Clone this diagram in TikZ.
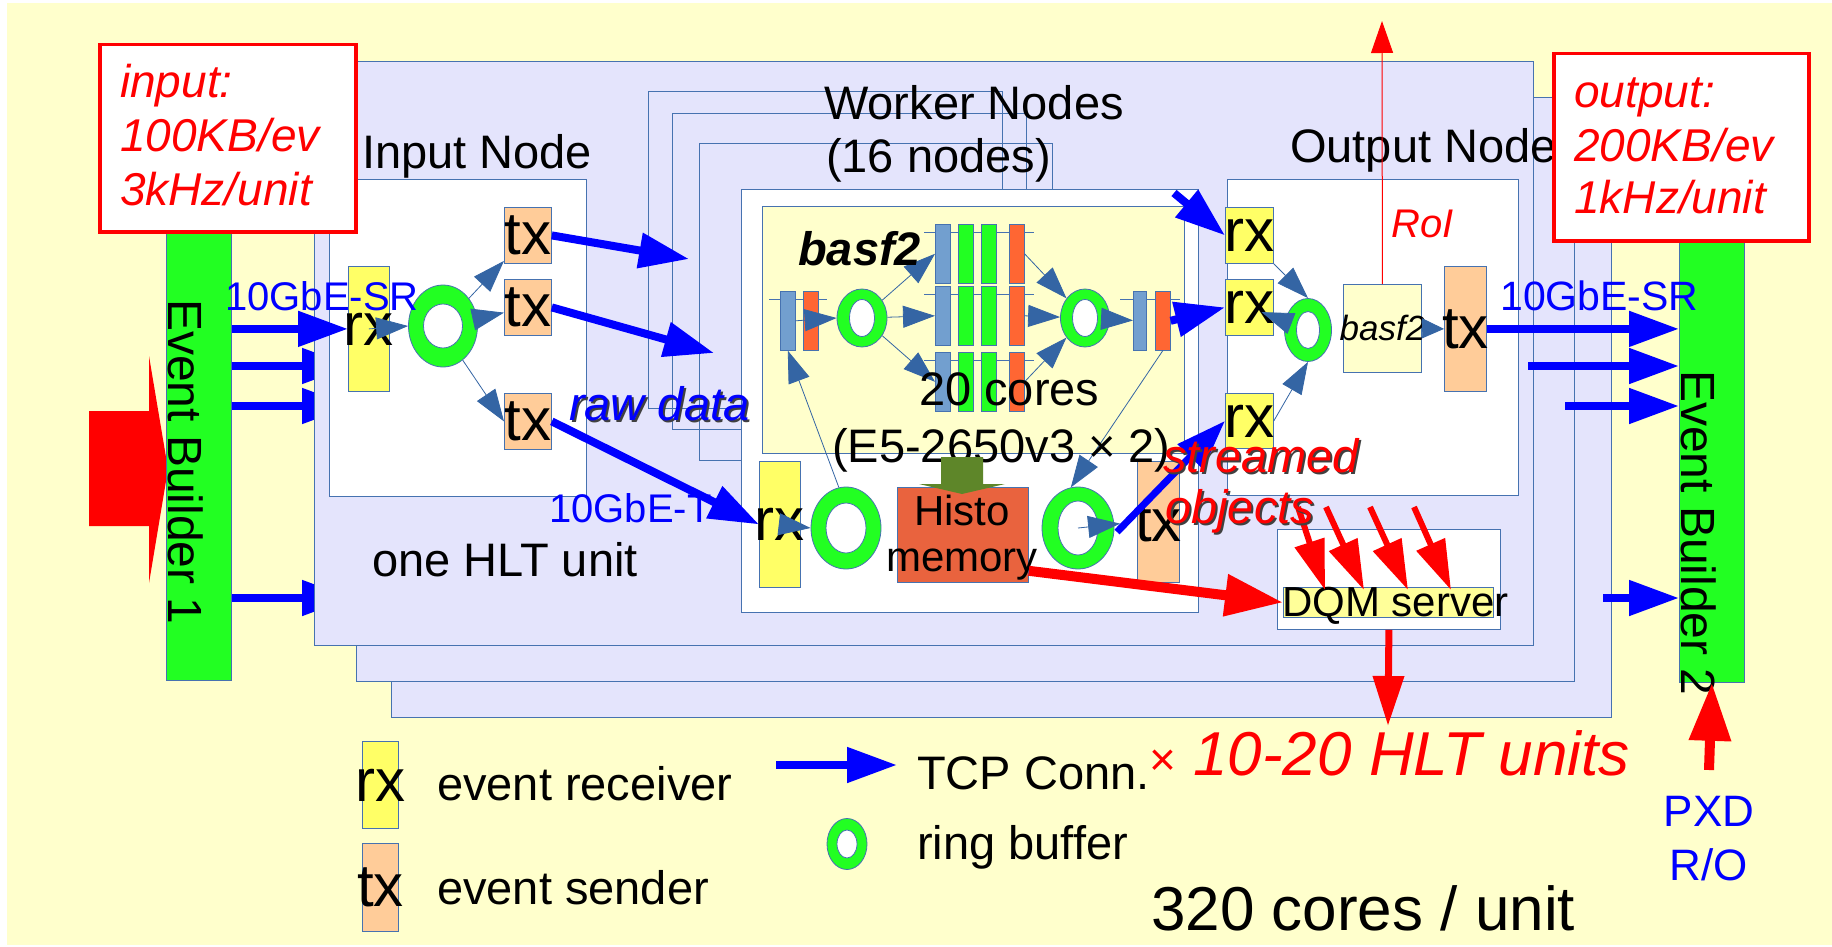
\documentclass[tikz,border=0pt]{standalone}
\usepackage{fontspec}
\setmainfont{Liberation Sans}
\usepackage{tikz}
\usetikzlibrary{arrows.meta,calc,shapes.geometric}

\definecolor{bgyellow}{RGB}{255,255,204}
\definecolor{unitfill}{RGB}{228,228,252}
\definecolor{edgeblue}{RGB}{70,114,176}
\definecolor{ebgreen}{RGB}{34,255,34}
\definecolor{rxyellow}{RGB}{255,255,102}
\definecolor{txpeach}{RGB}{255,204,153}
\definecolor{barblue}{RGB}{114,159,207}
\definecolor{barorange}{RGB}{255,102,51}
\definecolor{histored}{RGB}{233,99,62}
\definecolor{histoolive}{RGB}{94,134,41}
\definecolor{smallblue}{RGB}{52,101,164}
\definecolor{dqmyellow}{RGB}{255,255,153}

\newcommand{\fsizemain}{\fontsize{47}{54}\selectfont}
\newcommand{\fsizebox}{\fontsize{60}{66}\selectfont}
\newcommand{\fsizelink}{\fontsize{40}{46}\selectfont}
\newcommand{\fsizerate}{\fontsize{46}{53}\selectfont}
\newcommand{\fsizesmall}{\fontsize{42}{46}\selectfont}
\newcommand{\fsizebig}{\fontsize{62}{70}\selectfont}
\newcommand{\fsizeeb}{\fontsize{48}{54}\selectfont}
\newcommand{\fsizebasf}{\fontsize{35}{40}\selectfont}
\newcommand{\fsizepxd}{\fontsize{44}{54}\selectfont}

\tikzstyle{unit} = [draw=edgeblue, fill=unitfill, line width=0.8pt, inner sep=0pt, anchor=north west]
\tikzstyle{whitebox} = [draw=edgeblue, fill=white, line width=0.8pt, inner sep=0pt, anchor=north west]
\tikzstyle{ratebox} = [draw=red, fill=white, line width=3.5pt, inner sep=0pt, anchor=north west]
\tikzstyle{ebbar} = [draw=edgeblue, fill=ebgreen, line width=0.8pt, inner sep=0pt, anchor=north west]
\tikzstyle{ebtext} = [rotate=-90, font=\fsizeeb, inner sep=0pt]
\tikzstyle{boxtext} = [font=\fsizebox, inner sep=0pt]
\tikzstyle{rxbox} = [draw=edgeblue, fill=rxyellow, line width=0.8pt, inner sep=0pt,
    anchor=north west, label={[boxtext]center:rx}]
\tikzstyle{txbox} = [draw=edgeblue, fill=txpeach, line width=0.8pt, inner sep=0pt,
    anchor=north west, label={[boxtext]center:tx}]
\tikzstyle{bar} = [draw=edgeblue, line width=0.6pt, inner sep=0pt, anchor=north west,
    minimum width=15, minimum height=59]
\tikzstyle{ringnode} = [ellipse, draw=edgeblue, fill=ebgreen, line width=0.8pt, inner sep=0pt]
\tikzstyle{ringhole} = [ellipse, draw=edgeblue, fill=white, line width=0.8pt, inner sep=0pt]
\tikzstyle{sarrow} = [draw=smallblue, line width=0.8pt, -{Triangle[length=32pt,width=22pt]}]
\tikzstyle{tcp} = [draw=blue, line width=8pt, -{Triangle[length=50pt,width=34pt]}]
\tikzstyle{redline} = [draw=red, line width=10pt, -{Triangle[length=58pt,width=40pt]}]
\tikzstyle{dqmline} = [draw=red, line width=7pt, -{Triangle[length=50pt,width=30pt]}]
\tikzstyle{txt} = [anchor=base west, inner sep=0pt, font=\fsizemain]
\tikzstyle{ratetxt} = [txt, text=red, font=\fsizerate\itshape]
\tikzstyle{linktxt} = [txt, text=blue, font=\fsizelink]
\tikzstyle{thinrule} = [draw=edgeblue, line width=0.8pt]

% ring buffer: name, centre, outer w, outer h, hole w, hole h
\newcommand{\ringbuf}[6]{%
    \node[ringnode, minimum width=#3, minimum height=#4] (#1) at (#2) {};
    \node[ringhole, minimum width=#5, minimum height=#6] (#1hole) at (#1) {};}

\begin{document}
\begin{tikzpicture}[x=1pt, y=-1pt]
    \useasboundingbox (0,0) rectangle (1832,947);
    \fill[white] (0,0) rectangle (1832,947);
    \fill[bgyellow] (7,3) rectangle (1832,945);

    % Event builders
    \fill[red] (89,411) -- (149,411) -- (149,356) -- (168,469) -- (149,583) -- (149,526) -- (89,526) -- cycle;
    \node[ebbar, minimum width=65, minimum height=480] (eb1) at (166,200) {};
    \node[ebtext] (eb1text) at (186,462) {Event Builder 1};
    \node[ebbar, minimum width=65, minimum height=440] (eb2) at (1679,242) {};
    \node[ebtext] (eb2text) at (1699,533) {Event Builder 2};

    % Stacked HLT units
    \node[unit, minimum width=1220, minimum height=587] (unitC) at (391,130) {};
    \node[unit, minimum width=1218, minimum height=584] (unitB) at (356,97) {};
    \coordinate (ib2) at (352,366);
    \coordinate (ib3) at (352,406);
    \coordinate (ib4) at (352,598);
    \foreach \p in {ib2,ib3,ib4}
        \draw[tcp] (eb1.east |- \p) -- (\p);
    \node[unit, minimum width=1219, minimum height=584] (unitA) at (314,61) {};

    % Worker nodes behind
    \draw[thinrule] (648,91) rectangle (1002,408);
    \draw[thinrule] (672,113) rectangle (1026,429);
    \draw[thinrule] (699,143) rectangle (1052,460);

    % Node boxes
    \node[whitebox, minimum width=257, minimum height=317] (innode) at (329,179) {};
    \node[whitebox, minimum width=457, minimum height=423] (wknode) at (741,189) {};
    \node[whitebox, fill=bgyellow, minimum width=422, minimum height=247] (wkbasf) at (762,206) {};
    \node[whitebox, minimum width=291, minimum height=316] (outnode) at (1227,179) {};
    \node[whitebox, minimum width=223, minimum height=100] (dqm) at (1277,529) {};
    \node[whitebox, fill=dqmyellow, minimum width=210, minimum height=30] (dqmbar) at (1283,587) {};

    % Input node
    \node[rxbox, minimum width=41, minimum height=125] (inrx) at (348,266) {};
    \node[txbox, minimum width=47, minimum height=56] (intx1) at (504,207) {};
    \node[txbox, minimum width=47, minimum height=56] (intx2) at (504,279) {};
    \node[txbox, minimum width=47, minimum height=56] (intx3) at (504,393) {};
    \ringbuf{inring}{443,326}{69}{82}{39}{44}
    \draw[sarrow] (inrx.center) -- (inring.west);
    \draw[sarrow] (inring) -- (intx1);
    \draw[sarrow] (inring) -- (intx2);
    \draw[sarrow] (inring.-60) -- (intx3.west);

    % Worker node
    \draw[thinrule] (769,299) -- (827,299);
    \draw[thinrule] (1120,299) -- (1180,299);
    \node[bar, fill=barblue] (wlb) at (780,291) {};
    \node[bar, fill=barorange] (wlo) at (803,291) {};
    \node[bar, fill=barblue, minimum width=13] (wrb) at (1133,291) {};
    \node[bar, fill=barorange] (wro) at (1155,291) {};
    \foreach \r/\y in {1/224,2/286,3/352} {
        \draw[thinrule] (924,\y+8) -- (1034,\y+8);
        \node[bar, fill=barblue] (colb\r) at (935,\y) {};
        \node[bar, fill=ebgreen] (colg\r) at (958,\y) {};
        \node[bar, fill=ebgreen] (colh\r) at (981,\y) {};
        \node[bar, fill=barorange] (colo\r) at (1009,\y) {};
    }
    \ringbuf{wring1}{862,318}{50}{58}{25}{37}
    \ringbuf{wring2}{1085,318}{49}{58}{25}{37}
    \node[rxbox, minimum width=41, minimum height=126] (wrx) at (759,461) {};
    \node[txbox, minimum width=42, minimum height=121] (wtx) at (1137,461) {};
    \ringbuf{wring3}{846,528}{70}{82}{40}{50}
    \ringbuf{wring4}{1078,528}{72}{82}{40}{54}
    \node[whitebox, fill=histored, minimum width=131, minimum height=95] (histo) at (897,487) {};
    \draw[sarrow] (wlb.east) -- (wring1.west);
    \draw[sarrow] (wring1) -- (colb1.west);
    \draw[sarrow] (wring1) -- (colb2.west);
    \draw[sarrow] (wring1) -- (colb3.west);
    \draw[sarrow] (colo1.east) -- (wring2);
    \draw[sarrow] (colo2.east) -- (wring2);
    \draw[sarrow] (colo3.east) -- (wring2);
    \draw[sarrow] (wring2) -- (wrb);
    \draw[sarrow] (wrx.center) -- (wring3.west);
    \draw[sarrow] (wring3.100) -- (wlb.south);
    \draw[sarrow] (wro.south) -- (wring4.100);
    \draw[sarrow, shorten >=17pt] (wring4.center) -- (wtx.west);

    % Output node
    \node[rxbox, minimum width=48, minimum height=56] (orx1) at (1225,207) {};
    \node[rxbox, minimum width=48, minimum height=56] (orx2) at (1225,279) {};
    \node[rxbox, minimum width=48, minimum height=55] (orx3) at (1225,393) {};
    \ringbuf{oring}{1308,330}{47}{63}{23}{37}
    \node[whitebox, fill=bgyellow, minimum width=78, minimum height=88,
        label={[font=\fsizebasf\itshape, inner sep=0pt]center:basf2}] (obasf) at (1343,284) {};
    \node[txbox, minimum width=42, minimum height=125] (otx) at (1444,266) {};
    \draw[sarrow] (orx1.south east) -- (oring.north);
    \draw[sarrow, shorten >=13pt] (oring) -- (orx2.center);
    \draw[sarrow] (orx3.east) -- (oring.south);
    \draw[sarrow, -{Triangle[length=22pt,width=20pt]}] (obasf.east) -- (otx.west);

    % Legend
    \node[rxbox, minimum width=36, minimum height=87] (legrx) at (362,741) {};
    \node[txbox, minimum width=36, minimum height=88] (legtx) at (362,843) {};
    \ringbuf{legring}{847,844}{40}{51}{20}{28}
    \coordinate (legtcpa) at (776,765);
    \coordinate (legtcpb) at (897,765);
    \draw[tcp] (legtcpa) -- (legtcpb);
    \node[txt] (legrxtext) at (437,800) {event receiver};
    \node[txt] (legtxtext) at (437,904) {event sender};
    \node[txt] (legtcptext) at (917,789) {TCP Conn.};
    \node[txt] (legringtext) at (917,859) {ring buffer};

    % Labels
    \node[txt] (innodetext) at (362,169) {Input Node};
    \node[txt] (wktext1) at (824,120) {Worker Nodes};
    \node[txt] (wktext2) at (826,173) {(16 nodes)};
    \node[txt] (outnodetext) at (1290,163) {Output Node};
    \node[txt, font=\fsizemain\bfseries\itshape] (basftext) at (798,265) {basf2};
    \node[txt] (corestext) at (919,405) {20 cores};
    \node[txt] (cputext) at (832,462) {(E5-2650v3 × 2)};
    \node[txt] (unittext) at (372,576) {one HLT unit};
    \node[font=\fsizesmall, align=center, inner sep=0pt] (histotext) at (962,538) {Histo\\memory};
    \node[txt, font=\fsizesmall] (dqmtext) at (1282,616) {DQM server};
    \node[txt, font=\fsizebig\itshape, text=red] (hlttext) at (1149,775)
        {{\fontsize{46}{50}\selectfont\upshape ×} 10-20 HLT units};
    \node[txt, font=\fsizebig] (unitcores) at (1151,930) {320 cores / unit};
    \node[anchor=base, inner sep=0pt, font=\fsizepxd, text=blue] (pxd1) at (1709,826) {PXD};
    \node[anchor=base, inner sep=0pt, font=\fsizepxd, text=blue] (pxd2) at (1709,880) {R/O};
    \node[linktxt] (ttext) at (549,522) {10GbE-T};
    \fill[histoolive] (941,457) -- (983,457) -- (983,484) -- (1005,484) -- (962,494) -- (919,484) -- (941,484) -- cycle;

    % TCP connections
    \draw[tcp] (eb1.east |- inrx.center) -- (inrx.west);
    \coordinate (wkA) at (689,259);
    \coordinate (wkB) at (714,353);
    \draw[tcp] (intx1.east) -- (wkA);
    \draw[tcp] (intx2.east) -- (wkB);
    \draw[tcp] (intx3.east) -- (wrx.west);
    \draw[tcp] (wro.east) -- (orx2.west);
    \coordinate (wkout) at (1174,193);
    \draw[tcp] (wkout) -- (orx1.west);
    \coordinate (wkstream) at (1117,532);
    \draw[tcp, line width=7pt] (wkstream) -- (orx3.west);
    \draw[tcp] (otx.east) -- (eb2.west |- otx.east);
    \coordinate (ob2) at (1528,366);
    \coordinate (ob3) at (1565,406);
    \coordinate (ob4) at (1603,598);
    \foreach \p in {ob2,ob3,ob4}
        \draw[tcp] (\p) -- (eb2.west |- \p);

    % DQM and PXD
    \draw[redline] ($(histo.south east)+(0,-12)$) -- (dqmbar.west);
    \coordinate (hltout) at (1388,726);
    \draw[dqmline] (dqm.south) -- (hltout);
    \foreach \i/\sx/\ex in {1/1298/42, 2/1326/81, 3/1370/125, 4/1414/168} {
        \coordinate (so\i) at (\sx,507);
        \draw[dqmline, line width=6pt] (so\i) -- ($(dqmbar.north west)+(\ex,3)$);
    }
    \coordinate (pxdin) at (1709,770);
    \draw[redline] (pxdin) -- (eb2.south);

    % Texts on top
    \node[linktxt] (srin) at (225,310) {10GbE-SR};
    \node[linktxt, font=\fontsize{41}{46}\selectfont] (srout) at (1500,310) {10GbE-SR};
    \node[txt, font=\fsizemain\itshape, text=black!75] (rawshadow) at (571,422) {raw data};
    \node[txt, font=\fsizemain\itshape, text=blue] (rawtext) at (569,420) {raw data};
    \node[txt, font=\fsizemain\itshape, text=black!75] (strshadow1) at (1165,474) {streamed};
    \node[txt, font=\fsizemain\itshape, text=black!75] (strshadow2) at (1167,525) {objects};
    \node[txt, font=\fsizemain\itshape, text=red] (strtext1) at (1163,472) {streamed};
    \node[txt, font=\fsizemain\itshape, text=red] (strtext2) at (1165,523) {objects};

    % Rates
    \node[ratebox, minimum width=256, minimum height=187] (inrate) at (98,43) {};
    \node[ratetxt] (inrate1) at (120,98) {input:};
    \node[ratetxt] (inrate2) at (120,152) {100KB/ev};
    \node[ratetxt] (inrate3) at (120,205) {3kHz/unit};
    \node[ratebox, minimum width=255, minimum height=187] (outrate) at (1552,52) {};
    \node[ratetxt] (outrate1) at (1574,108) {output:};
    \node[ratetxt] (outrate2) at (1574,161) {200KB/ev};
    \node[ratetxt] (outrate3) at (1574,214) {1kHz/unit};

    % RoI
    \coordinate (roiout) at (1382,21);
    \draw[draw=red, line width=1pt, -{Triangle[length=32pt,width=22pt]}] (obasf.north) -- (roiout);
    \node[txt, font=\fsizelink\itshape, text=red] (roitext) at (1391,237) {RoI};
\end{tikzpicture}
\end{document}
